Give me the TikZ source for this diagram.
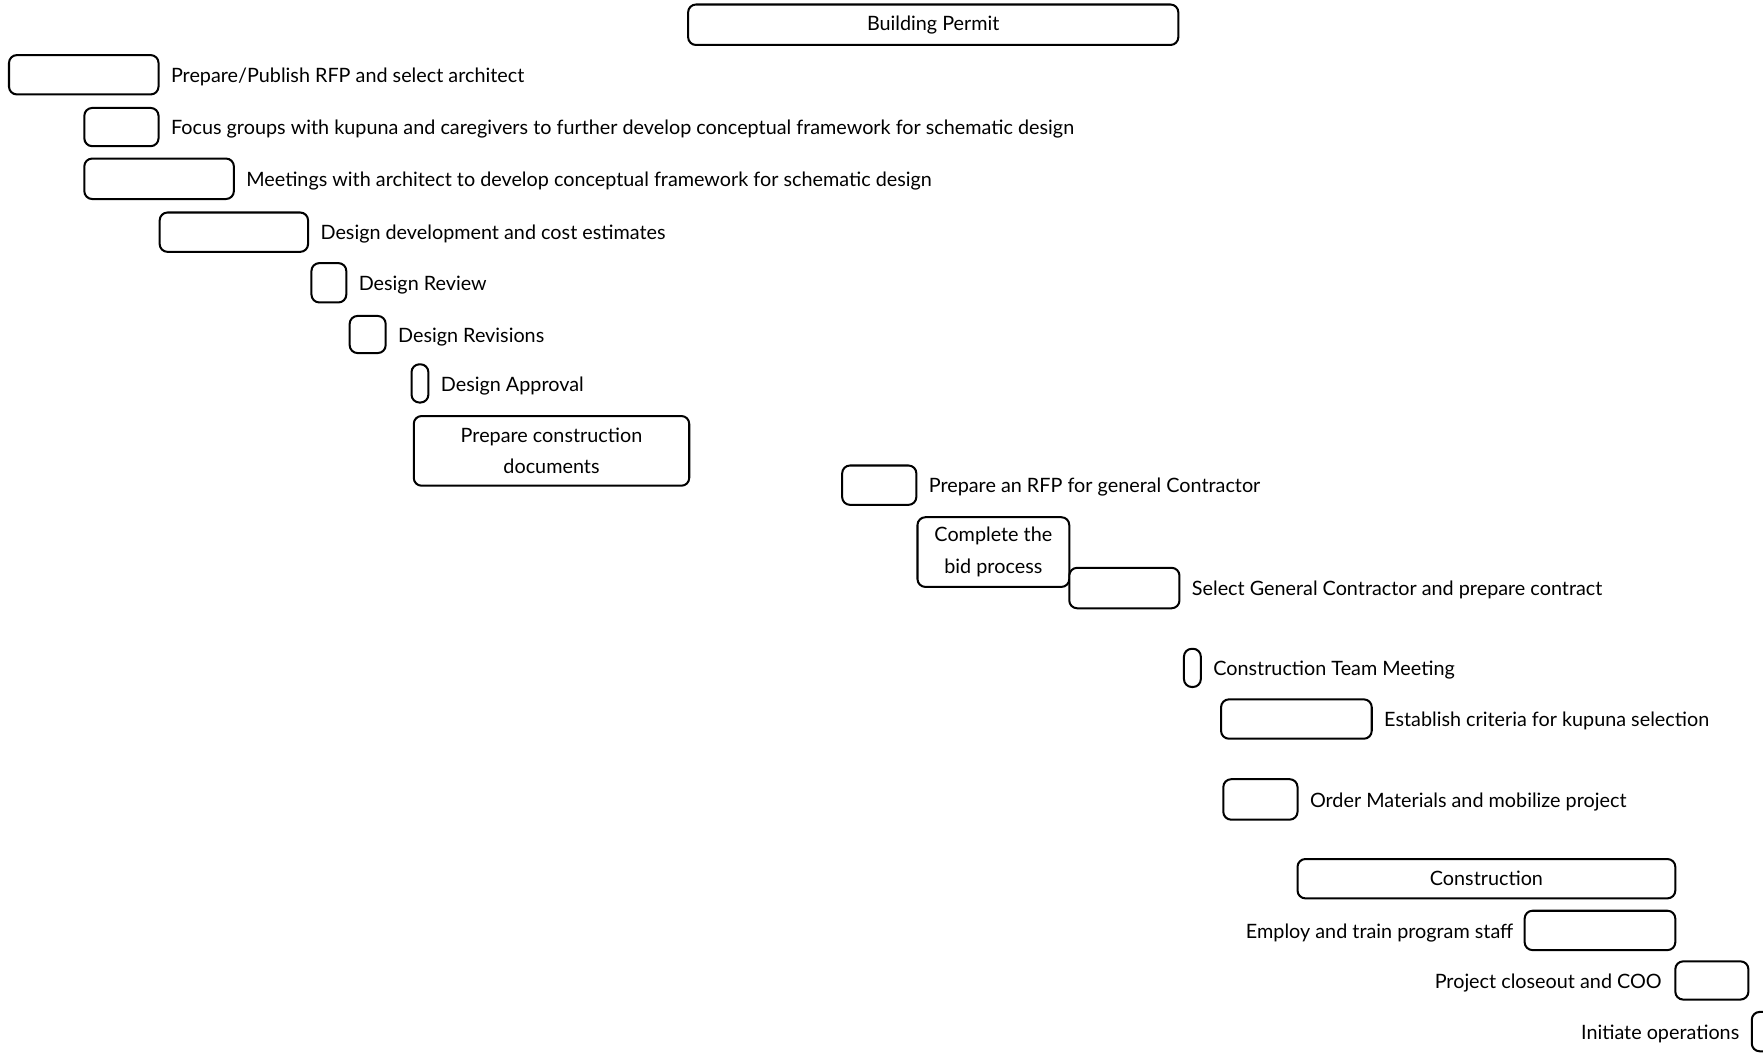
\documentclass[tikz,border=0pt]{standalone}
\usepackage{fontspec}
\setmainfont{Lato}
\begin{document}
\begin{tikzpicture}[x=1pt,y=-1pt,
  bar/.style={draw=black, line width=1.8pt, rounded corners=7pt, inner sep=0pt, fill=white},
  lbl/.style={inner sep=0pt, font=\fontsize{17.6}{28}\selectfont, text=black, yshift=-2pt},
  intext/.style={font=\fontsize{17.6}{28}\selectfont, align=center}]
\clip (0,0) rectangle (1568,937);
\fill[white] (0,0) rectangle (1568,937);

% Building Permit
\node[bar, intext, minimum width=436pt, minimum height=36pt] (bp) at (830,22) {Building Permit};

\node[bar, minimum width=133pt, minimum height=35pt] (b1) at (74.5,66.5) {};
\node[lbl, anchor=west] (l1) at ([xshift=10pt]b1.east) {Prepare/Publish RFP and select architect};

\node[bar, minimum width=66pt, minimum height=34pt] (b2) at (108,113) {};
\node[lbl, anchor=west] (l2) at ([xshift=10pt]b2.east) {Focus groups with kupuna and caregivers to further develop conceptual framework for schematic design};

\node[bar, minimum width=133pt, minimum height=36pt] (b3) at (141.5,159) {};
\node[lbl, anchor=west] (l3) at ([xshift=10pt]b3.east) {Meetings with architect to develop conceptual framework for schematic design};

\node[bar, minimum width=132pt, minimum height=35pt] (b4) at (208,206.5) {};
\node[lbl, anchor=west] (l4) at ([xshift=10pt]b4.east) {Design development and cost estimates};

\node[bar, minimum width=31pt, minimum height=35pt] (b5) at (292.5,251.5) {};
\node[lbl, anchor=west] (l5) at ([xshift=10pt]b5.east) {Design Review};

\node[bar, minimum width=32pt, minimum height=33pt] (b6) at (327,297.5) {};
\node[lbl, anchor=west] (l6) at ([xshift=10pt]b6.east) {Design Revisions};

\node[bar, minimum width=15pt, minimum height=34pt] (b7) at (373.5,341) {};
\node[lbl, anchor=west] (l7) at ([xshift=10pt]b7.east) {Design Approval};

\node[bar, intext, minimum width=245pt, minimum height=62pt] (b8) at (490.5,401) {Prepare construction\\documents};

\node[bar, minimum width=66pt, minimum height=35pt] (b9) at (782,431.5) {};
\node[lbl, anchor=west] (l9) at ([xshift=10pt]b9.east) {Prepare an RFP for general Contractor};

\node[bar, intext, minimum width=135pt, minimum height=62pt] (b10) at (883.5,491) {Complete the\\bid process};

\node[bar, minimum width=98pt, minimum height=36pt] (b11) at (1000,523) {};
\node[lbl, anchor=west] (l11) at ([xshift=10pt]b11.east) {Select General Contractor and prepare contract};

\node[bar, minimum width=15pt, minimum height=34pt] (b12) at (1060.5,594) {};
\node[lbl, anchor=west] (l12) at ([xshift=10pt]b12.east) {Construction Team Meeting};

\node[bar, minimum width=134pt, minimum height=35pt] (b13) at (1153,639.5) {};
\node[lbl, anchor=west] (l13) at ([xshift=10pt]b13.east) {Establish criteria for kupuna selection};

\node[bar, minimum width=66pt, minimum height=36pt] (b14) at (1121,711) {};
\node[lbl, anchor=west] (l14) at ([xshift=10pt]b14.east) {Order Materials and mobilize project};

\node[bar, intext, minimum width=336pt, minimum height=35pt] (b15) at (1322,781.5) {Construction};

\node[bar, minimum width=134pt, minimum height=35pt] (b16) at (1423,827.5) {};
\node[lbl, anchor=east] (l16) at ([xshift=-9pt]b16.west) {Employ and train program staff};

\node[bar, minimum width=65pt, minimum height=34pt] (b17) at (1522.5,872) {};
\node[lbl, anchor=east] (l17) at ([xshift=-11pt]b17.west) {Project closeout and COO};

\node[bar, minimum width=66pt, minimum height=35pt] (b18) at (1591,917.5) {};
\node[lbl, anchor=east] (l18) at ([xshift=-10pt]b18.west) {Initiate operations};
\end{tikzpicture}
\end{document}
